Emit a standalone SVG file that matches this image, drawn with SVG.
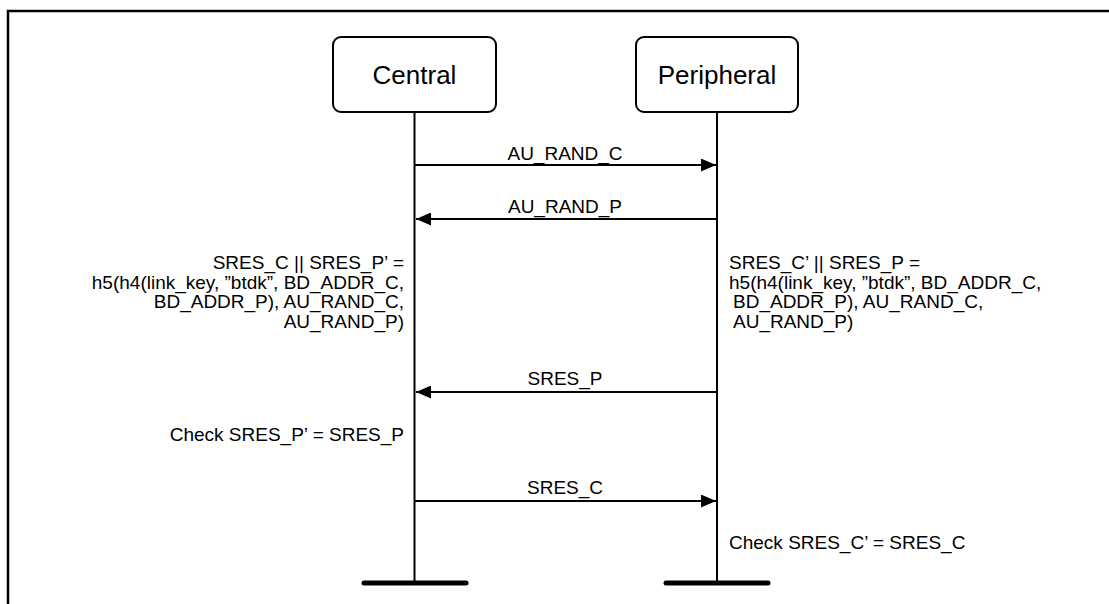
<svg xmlns="http://www.w3.org/2000/svg" width="1109" height="604" viewBox="0 0 1109 604">
<defs>
<style>
.box{fill:#fff;stroke:#000;stroke-width:2}
.life{stroke:#000;stroke-width:2;fill:none}
.bar{stroke:#000;stroke-width:5;stroke-linecap:round}
.msg{stroke:#000;stroke-width:2;fill:none;marker-end:url(#ah)}
.t{font-family:"Liberation Sans",Arial,sans-serif;fill:#000}
.big{font-size:26px;text-anchor:middle;dominant-baseline:central}
.s{font-size:19px}
.r{text-anchor:end}
.m{text-anchor:middle}
</style>
<marker id="ah" viewBox="0 0 15 13" refX="15" refY="6.5" markerWidth="15" markerHeight="13" markerUnits="userSpaceOnUse" orient="auto">
<path d="M0,0 L15,6.5 L0,13 Z" fill="#000"/>
</marker>
</defs>
<rect width="1109" height="604" fill="#fff"/>
<path d="M8,604 V11 H1109" fill="none" stroke="#000" stroke-width="2.5"/>

<g id="central">
<rect class="box" x="333" y="37" width="163" height="75" rx="8"/>
<text class="t big" x="414.5" y="74.5">Central</text>
<line class="life" x1="414.5" y1="112" x2="414.5" y2="583"/>
<line class="bar" x1="364" y1="583" x2="466" y2="583"/>
</g>

<g id="peripheral">
<rect class="box" x="636" y="37" width="162" height="75" rx="8"/>
<text class="t big" x="717" y="74.5">Peripheral</text>
<line class="life" x1="717" y1="112" x2="717" y2="583"/>
<line class="bar" x1="666" y1="583" x2="768" y2="583"/>
</g>

<g id="connectors">
<line class="msg" x1="415" y1="165" x2="716" y2="165"/>
<text class="t s m" x="565" y="160">AU_RAND_C</text>
<line class="msg" x1="716" y1="219" x2="416" y2="219"/>
<text class="t s m" x="565" y="213">AU_RAND_P</text>
<line class="msg" x1="716" y1="392" x2="416" y2="392"/>
<text class="t s m" x="565" y="385">SRES_P</text>
<line class="msg" x1="415" y1="501" x2="716" y2="501"/>
<text class="t s m" x="565" y="494">SRES_C</text>
</g>

<g id="central-calc">
<text class="t s r" x="404" y="269">SRES_C || SRES_P’ =</text>
<text class="t s r" x="404" y="288.5">h5(h4(link_key, ”btdk”, BD_ADDR_C,</text>
<text class="t s r" x="404" y="308">BD_ADDR_P), AU_RAND_C,</text>
<text class="t s r" x="404" y="327.5">AU_RAND_P)</text>
</g>

<g id="peripheral-calc">
<text class="t s" x="729" y="269">SRES_C’ || SRES_P =</text>
<text class="t s" x="729" y="288.5">h5(h4(link_key, ”btdk”, BD_ADDR_C,</text>
<text class="t s" x="733" y="308">BD_ADDR_P), AU_RAND_C,</text>
<text class="t s" x="733" y="327.5">AU_RAND_P)</text>
</g>

<g id="central-check">
<text class="t s r" x="404" y="441">Check SRES_P’ = SRES_P</text>
</g>

<g id="peripheral-check">
<text class="t s" x="729" y="549">Check SRES_C’ = SRES_C</text>
</g>
</svg>
